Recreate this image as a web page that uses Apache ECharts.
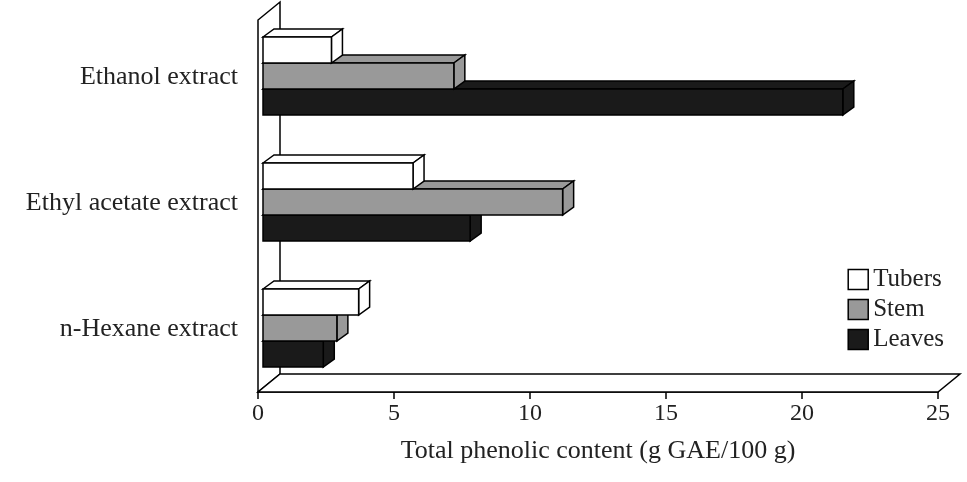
<!DOCTYPE html>
<html><head><meta charset="utf-8">
<script src="https://cdn.jsdelivr.net/npm/echarts@6/dist/echarts.min.js"></script>
<style>html,body{margin:0;padding:0;background:#fff}#c{width:967px;height:482px}</style>
</head><body><div id="c"></div>
<script>
const categories = ['Ethanol extract', 'Ethyl acetate extract', 'n-Hexane extract'];
const tubers = [2.7, 5.7, 3.7];
const stem = [7.2, 11.2, 2.9];
const leaves = [21.5, 7.8, 2.4];
const xTicks = [0, 5, 10, 15, 20, 25];

const FONT = '"Liberation Serif", "DejaVu Serif", serif';
const DX = 11, DY = -8, BH = 26, START = 5;

function barRender(slot) {
  return function (params, api) {
    const v = api.value(0), c = api.value(1);
    const p0 = api.coord([0, c]), p1 = api.coord([v, c]);
    const x0 = p0[0] + START, x1 = p1[0];
    const y0 = p0[1] + slot * BH - BH / 2 - 1, y1 = y0 + BH;
    const st = {fill: api.visual('color'), stroke: '#000', lineWidth: 1.5};
    return {type: 'group', children: [
      {type: 'polygon', shape: {points: [[x0, y0], [x0 + DX, y0 + DY], [x1 + DX, y0 + DY], [x1, y0]]}, style: st},
      {type: 'polygon', shape: {points: [[x1, y0], [x1 + DX, y0 + DY], [x1 + DX, y1 + DY], [x1, y1]]}, style: st},
      {type: 'rect', shape: {x: x0, y: y0, width: x1 - x0, height: BH}, style: st}
    ]};
  };
}
function frameRender(params, api) {
  const r = params.coordSys;
  const L = r.x, R = r.x + r.width, B = r.y + r.height, T = r.y + 6;
  const dx = 22, dy = -18;
  const st = {fill: '#fff', stroke: '#000', lineWidth: 1.5};
  return {type: 'group', children: [
    {type: 'polygon', shape: {points: [[L, B], [L, T], [L + dx, T + dy], [L + dx, B + dy]]}, style: st},
    {type: 'polygon', shape: {points: [[L, B], [R, B], [R + dx, B + dy], [L + dx, B + dy]]}, style: st}
  ]};
}
const mk = (arr) => arr.map((v, i) => [v, i]);
const chart = echarts.init(document.getElementById('c'));
chart.setOption({
  animation: false,
  grid: {left: 258, right: 29, top: 14, bottom: 90},
  legend: {
    orient: 'vertical', right: 18, top: 262, itemWidth: 20, itemHeight: 20, itemGap: 5,
    icon: 'rect', textStyle: {fontFamily: FONT, fontSize: 25, color: '#222'},
    itemStyle: {borderColor: '#000', borderWidth: 1.5},
    data: ['Tubers', 'Stem', 'Leaves']
  },
  xAxis: {
    type: 'value', min: 0, max: 25, interval: 5,
    name: 'Total phenolic content (g GAE/100 g)', nameLocation: 'middle', nameGap: 46,
    nameTextStyle: {fontFamily: FONT, fontSize: 26, color: '#222'},
    axisLine: {show: true, lineStyle: {color: '#000', width: 1.5}},
    axisTick: {show: true, length: 7, lineStyle: {color: '#000', width: 1.5}},
    axisLabel: {fontFamily: FONT, fontSize: 24, color: '#222', margin: 10,
      formatter: v => xTicks.includes(v) ? String(v) : ''},
    splitLine: {show: false}
  },
  yAxis: {
    type: 'category', data: categories, inverse: true,
    axisLine: {show: false}, axisTick: {show: false},
    axisLabel: {fontFamily: FONT, fontSize: 26, color: '#222', margin: 20}
  },
  series: [
    {type: 'custom', name: 'frame', renderItem: frameRender, data: [[0, 0]], z: 1, silent: true},
    {type: 'custom', name: 'Leaves', renderItem: barRender(1), data: mk(leaves), itemStyle: {color: '#1a1a1a'}, z: 2, encode: {x: 0, y: 1}},
    {type: 'custom', name: 'Stem', renderItem: barRender(0), data: mk(stem), itemStyle: {color: '#999999'}, z: 3, encode: {x: 0, y: 1}},
    {type: 'custom', name: 'Tubers', renderItem: barRender(-1), data: mk(tubers), itemStyle: {color: '#ffffff'}, z: 4, encode: {x: 0, y: 1}}
  ]
});
</script></body></html>
